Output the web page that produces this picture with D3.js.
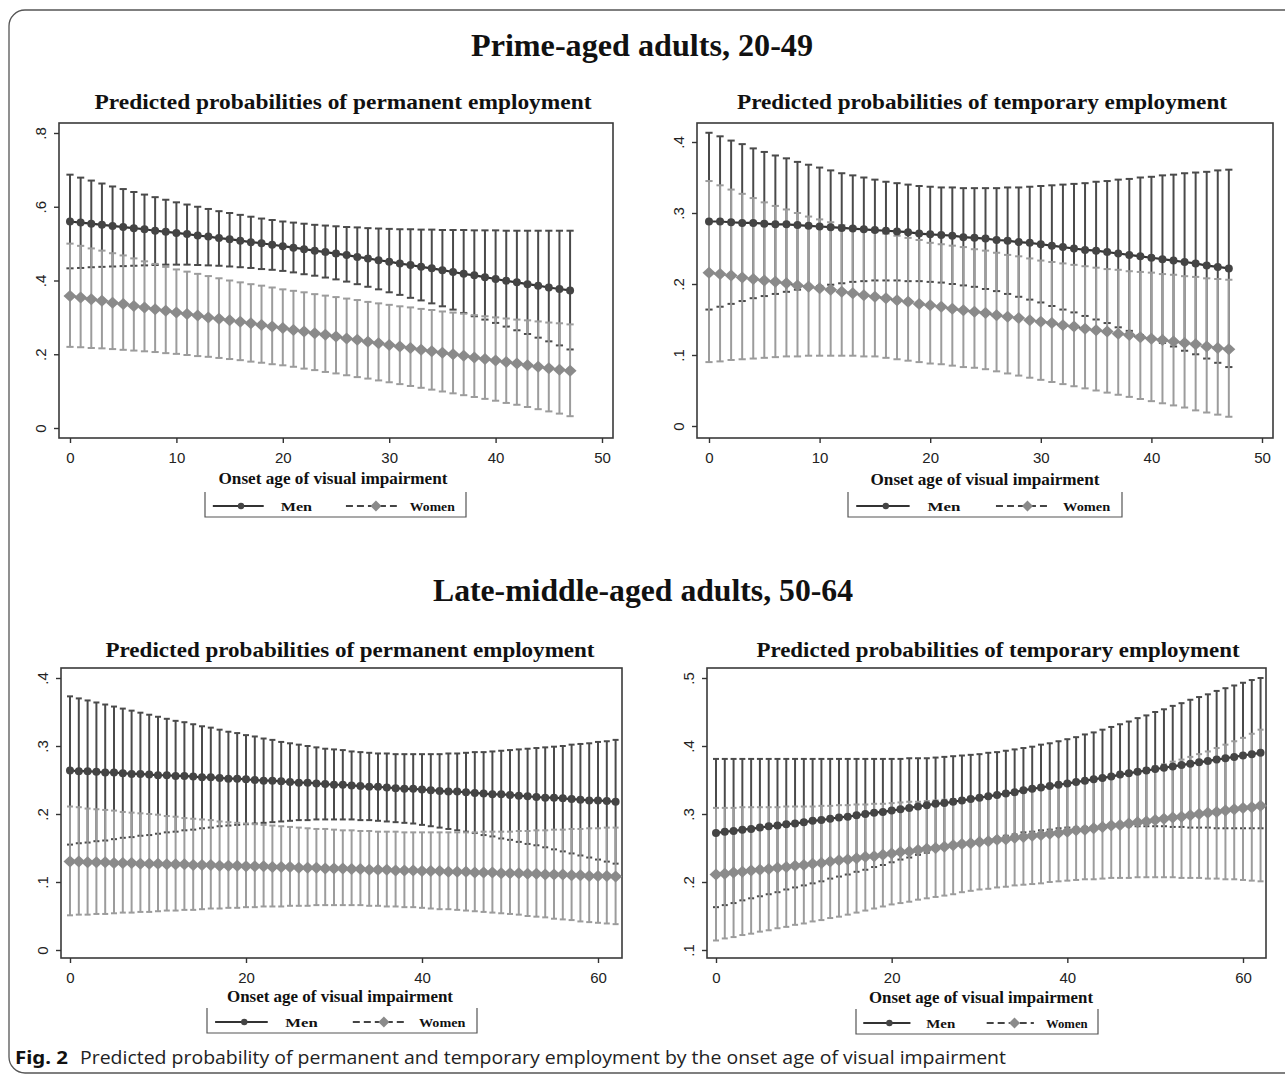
<!DOCTYPE html>
<html><head><meta charset="utf-8">
<script src="https://cdn.jsdelivr.net/npm/d3@7"></script>
<style>body{margin:0;background:#fff}svg{display:block}</style>
</head><body>
<svg id="chart" width="1285" height="1075"></svg>
<script>
// ---------- categories (onset age) ----------
const agesPrime = [0,1,2,3,4,5,6,7,8,9,10,11,12,13,14,15,16,17,18,19,20,21,22,23,24,25,26,27,28,29,30,31,32,33,34,35,36,37,38,39,40,41,42,43,44,45,46,47];
const agesLate = [0,1,2,3,4,5,6,7,8,9,10,11,12,13,14,15,16,17,18,19,20,21,22,23,24,25,26,27,28,29,30,31,32,33,34,35,36,37,38,39,40,41,42,43,44,45,46,47,48,49,50,51,52,53,54,55,56,57,58,59,60,61,62];

// ---------- Panel 1: prime-aged, permanent ----------
const p1MenMean = [.560,.557,.554,.551,.548,.545,.542,.539,.535,.532,.529,.526,.522,.519,.515,.512,.508,.504,.501,.497,.493,.489,.485,.481,.477,.473,.469,.464,.460,.455,.451,.446,.442,.437,.433,.428,.423,.418,.414,.409,.404,.399,.395,.390,.386,.381,.377,.373];
const p1MenHi = [.687,.679,.671,.663,.655,.648,.640,.633,.626,.619,.612,.606,.600,.594,.588,.583,.578,.573,.568,.564,.560,.557,.554,.551,.549,.547,.545,.544,.542,.541,.540,.539,.539,.538,.538,.537,.537,.537,.536,.536,.536,.535,.535,.535,.535,.535,.535,.535];
const p1MenLo = [.433,.434,.436,.437,.438,.439,.440,.441,.442,.443,.443,.443,.442,.441,.440,.438,.436,.434,.431,.429,.426,.422,.417,.413,.408,.403,.397,.390,.383,.376,.368,.361,.353,.346,.338,.330,.321,.312,.303,.294,.285,.275,.265,.255,.245,.235,.224,.213];
const p1WomenMean = [.358,.354,.349,.345,.340,.336,.331,.327,.322,.318,.313,.309,.305,.300,.296,.292,.288,.284,.279,.275,.271,.266,.262,.257,.253,.248,.243,.239,.234,.230,.225,.221,.217,.212,.208,.204,.200,.196,.191,.187,.183,.179,.175,.170,.166,.162,.158,.155];
const p1WomenHi = [.500,.494,.487,.481,.474,.468,.460,.452,.445,.437,.430,.424,.418,.412,.406,.400,.395,.390,.386,.381,.376,.372,.368,.363,.359,.355,.351,.347,.342,.338,.334,.330,.327,.323,.320,.316,.313,.310,.306,.303,.300,.297,.294,.292,.289,.286,.284,.281];
const p1WomenLo = [.220,.219,.217,.216,.214,.212,.210,.208,.206,.203,.201,.198,.195,.193,.190,.187,.184,.180,.177,.173,.170,.166,.161,.157,.152,.148,.143,.138,.134,.129,.124,.119,.114,.109,.104,.099,.094,.089,.084,.079,.074,.068,.063,.057,.051,.045,.039,.032];

// ---------- Panel 2: prime-aged, temporary ----------
const p2MenMean = [.288,.288,.287,.286,.286,.285,.284,.284,.283,.282,.281,.280,.279,.278,.277,.276,.275,.274,.273,.271,.270,.269,.268,.266,.265,.264,.262,.261,.259,.258,.256,.254,.252,.250,.248,.247,.245,.243,.241,.239,.237,.235,.233,.231,.229,.226,.224,.222];
const p2MenHi = [.413,.408,.402,.397,.391,.386,.381,.377,.372,.368,.364,.360,.356,.353,.350,.347,.344,.342,.340,.338,.337,.336,.336,.335,.335,.335,.335,.336,.336,.337,.338,.339,.340,.341,.342,.344,.345,.347,.348,.350,.351,.353,.354,.356,.357,.358,.360,.361];
const p2MenLo = [.164,.168,.172,.176,.180,.183,.186,.189,.192,.195,.197,.199,.201,.203,.204,.205,.205,.205,.204,.204,.203,.202,.200,.198,.196,.193,.190,.186,.182,.178,.174,.169,.164,.160,.155,.150,.145,.139,.134,.128,.123,.117,.112,.106,.101,.095,.089,.083];
const p2WomenMean = [.216,.214,.212,.209,.207,.205,.203,.201,.198,.196,.194,.192,.189,.187,.184,.182,.180,.177,.175,.172,.170,.168,.165,.163,.161,.159,.156,.154,.152,.149,.147,.145,.142,.140,.137,.135,.133,.130,.128,.125,.123,.121,.119,.117,.115,.112,.110,.108];
const p2WomenHi = [.345,.339,.333,.327,.321,.315,.310,.305,.300,.295,.291,.287,.283,.280,.277,.274,.271,.268,.265,.262,.258,.256,.254,.252,.249,.247,.244,.241,.239,.236,.233,.231,.229,.227,.225,.223,.221,.220,.218,.217,.216,.214,.213,.211,.210,.208,.207,.206];
const p2WomenLo = [.090,.091,.093,.094,.095,.096,.097,.098,.098,.099,.099,.099,.099,.099,.098,.098,.096,.094,.092,.090,.088,.087,.085,.083,.082,.080,.077,.074,.071,.068,.065,.062,.059,.056,.053,.050,.047,.044,.041,.038,.035,.032,.029,.026,.022,.019,.016,.013];

// ---------- Panel 3: late-middle-aged, permanent ----------
const p3MenMean = [.264,.263,.263,.262,.261,.261,.260,.259,.259,.258,.257,.257,.256,.256,.255,.254,.254,.253,.252,.252,.251,.250,.249,.249,.248,.247,.246,.246,.245,.244,.243,.243,.242,.241,.240,.240,.239,.238,.237,.237,.236,.235,.234,.233,.233,.232,.231,.230,.229,.229,.228,.227,.226,.225,.224,.224,.223,.222,.221,.220,.220,.219,.218];
const p3MenHi = [.373,.370,.367,.364,.361,.358,.355,.352,.349,.346,.343,.340,.337,.335,.332,.329,.327,.324,.321,.319,.316,.314,.311,.309,.306,.304,.302,.300,.298,.296,.295,.294,.292,.291,.290,.289,.289,.288,.288,.288,.288,.288,.288,.289,.289,.290,.291,.291,.292,.293,.294,.295,.296,.297,.298,.299,.300,.302,.303,.304,.306,.307,.309];
const p3MenLo = [.155,.157,.158,.160,.161,.163,.165,.166,.168,.169,.171,.173,.174,.176,.177,.179,.180,.182,.183,.184,.185,.186,.187,.188,.189,.190,.191,.191,.192,.192,.192,.192,.192,.191,.191,.190,.189,.188,.187,.186,.184,.182,.180,.178,.176,.174,.172,.169,.167,.164,.162,.159,.156,.154,.151,.148,.145,.142,.139,.136,.133,.130,.127];
const p3WomenMean = [.130,.130,.129,.129,.129,.128,.128,.128,.127,.127,.127,.126,.126,.126,.125,.125,.125,.124,.124,.124,.123,.123,.123,.122,.122,.122,.121,.121,.121,.120,.120,.120,.119,.119,.118,.118,.118,.117,.117,.117,.116,.116,.116,.115,.115,.115,.114,.114,.114,.113,.113,.113,.112,.112,.111,.111,.111,.110,.110,.109,.109,.109,.108];
const p3WomenHi = [.211,.210,.208,.207,.206,.205,.203,.202,.201,.200,.199,.197,.196,.194,.193,.192,.191,.189,.188,.187,.186,.185,.184,.183,.182,.181,.180,.179,.178,.178,.177,.176,.176,.175,.175,.174,.174,.174,.173,.173,.173,.173,.173,.173,.173,.173,.173,.174,.174,.174,.174,.175,.175,.176,.176,.177,.177,.178,.178,.179,.179,.180,.180];
const p3WomenLo = [.051,.052,.052,.053,.053,.054,.055,.055,.056,.056,.057,.058,.058,.059,.059,.060,.061,.061,.062,.062,.063,.063,.064,.064,.064,.065,.065,.065,.066,.066,.066,.066,.066,.066,.065,.065,.064,.064,.063,.063,.062,.061,.060,.060,.059,.058,.057,.056,.055,.054,.053,.052,.050,.049,.048,.046,.045,.044,.042,.041,.040,.039,.038];

// ---------- Panel 4: late-middle-aged, temporary ----------
const p4MenMean = [.272,.274,.275,.277,.278,.280,.282,.283,.285,.286,.288,.290,.291,.293,.295,.296,.298,.300,.302,.303,.305,.307,.309,.311,.313,.315,.316,.318,.320,.322,.324,.326,.328,.330,.332,.335,.337,.339,.341,.343,.345,.347,.349,.351,.353,.355,.358,.360,.362,.364,.366,.368,.370,.372,.374,.376,.378,.380,.382,.384,.386,.388,.390];
const p4MenHi = [.381,.381,.381,.381,.381,.381,.381,.381,.381,.381,.381,.381,.381,.381,.381,.381,.381,.381,.381,.381,.381,.381,.382,.382,.382,.383,.384,.385,.386,.387,.388,.390,.391,.393,.395,.397,.399,.402,.404,.407,.410,.413,.417,.420,.424,.428,.432,.436,.441,.445,.450,.454,.459,.463,.468,.472,.476,.481,.485,.489,.493,.497,.500];
const p4MenLo = [.163,.166,.169,.173,.176,.179,.182,.185,.189,.192,.195,.198,.201,.205,.208,.211,.215,.218,.222,.225,.229,.233,.236,.240,.243,.247,.250,.252,.255,.257,.260,.263,.265,.268,.270,.273,.274,.276,.277,.279,.280,.280,.281,.281,.282,.282,.282,.282,.282,.282,.282,.282,.281,.281,.280,.280,.280,.279,.279,.279,.279,.279,.279];
const p4WomenMean = [.211,.212,.214,.215,.217,.218,.219,.221,.222,.224,.225,.227,.228,.230,.232,.233,.235,.237,.238,.240,.242,.244,.245,.247,.249,.250,.252,.254,.256,.257,.259,.260,.262,.263,.265,.266,.268,.269,.271,.272,.274,.276,.277,.279,.281,.283,.284,.286,.288,.289,.291,.293,.295,.296,.298,.300,.302,.303,.305,.307,.309,.310,.312];
const p4WomenHi = [.309,.309,.309,.310,.310,.310,.310,.310,.311,.311,.311,.311,.312,.312,.313,.313,.314,.314,.315,.315,.316,.317,.318,.318,.319,.320,.321,.322,.323,.325,.326,.327,.329,.330,.332,.334,.336,.338,.340,.342,.344,.346,.349,.351,.354,.356,.359,.362,.364,.367,.370,.373,.377,.380,.384,.388,.392,.397,.402,.407,.412,.418,.424];
const p4WomenLo = [.114,.117,.119,.122,.124,.127,.129,.132,.134,.137,.139,.142,.144,.147,.149,.152,.155,.158,.161,.164,.167,.169,.171,.174,.176,.178,.180,.182,.185,.187,.189,.190,.192,.193,.195,.196,.197,.198,.200,.201,.202,.203,.204,.204,.205,.206,.206,.206,.207,.207,.207,.207,.207,.206,.206,.206,.205,.205,.204,.204,.203,.202,.201];

// ---------- tick values & texts ----------
const p1YTicks = [0, .2, .4, .6, .8];
const p2YTicks = [0, .1, .2, .3, .4];
const p3YTicks = [0, .1, .2, .3, .4];
const p4YTicks = [.1, .2, .3, .4, .5];
const primeXTicks = [0, 10, 20, 30, 40, 50];
const lateXTicks = [0, 20, 40, 60];
const groupTitles = ["Prime-aged adults, 20-49", "Late-middle-aged adults, 50-64"];
const panelTitles = ["Predicted probabilities  of permanent  employment", "Predicted probabilities  of temporary  employment",
                     "Predicted probabilities  of permanent  employment", "Predicted probabilities  of temporary  employment"];
const xAxisTitle = "Onset age of visual impairment";
const legendLabels = ["Men", "Women"];
const captionLabel = "Fig. 2";
const captionText = "Predicted probability of permanent and temporary employment by the onset age of visual impairment";

// ---------- layout ----------
const panels = [
  {ages: agesPrime, men: [p1MenMean, p1MenHi, p1MenLo], women: [p1WomenMean, p1WomenHi, p1WomenLo], yTicks: p1YTicks, xTicks: primeXTicks,
   xd: [0, 50], yd: [0, .8], frame: [59, 123, 613, 438], xr: [70, 602], yr: [428, 133],
   title: [343, 109, 497], xt: [333, 484, 229], leg: [205, 466, 506], cap: 3.6},
  {ages: agesPrime, men: [p2MenMean, p2MenHi, p2MenLo], women: [p2WomenMean, p2WomenHi, p2WomenLo], yTicks: p2YTicks, xTicks: primeXTicks,
   xd: [0, 50], yd: [0, .4], frame: [697, 123, 1273, 438], xr: [709, 1262], yr: [426, 142],
   title: [982, 109, 490], xt: [985, 485, 229], leg: [848, 1122, 506], cap: 3.6},
  {ages: agesLate, men: [p3MenMean, p3MenHi, p3MenLo], women: [p3WomenMean, p3WomenHi, p3WomenLo], yTicks: p3YTicks, xTicks: lateXTicks,
   xd: [0, 60], yd: [0, .4], frame: [61, 668, 622, 958], xr: [70, 598], yr: [950, 678],
   title: [350, 657, 489], xt: [340, 1002, 226], leg: [207, 477, 1022], cap: 3},
  {ages: agesLate, men: [p4MenMean, p4MenHi, p4MenLo], women: [p4WomenMean, p4WomenHi, p4WomenLo], yTicks: p4YTicks, xTicks: lateXTicks,
   xd: [0, 60], yd: [.1, .5], frame: [707, 668, 1266, 958], xr: [716, 1243], yr: [950, 678],
   title: [998, 657, 483], xt: [981, 1003, 224], leg: [856, 1098, 1023], cap: 3}
];

const SERIF = "'Liberation Serif','Times New Roman',serif";
const SANS = "'Liberation Sans',Arial,sans-serif";
const svg = d3.select("#chart");

// outer frame
svg.append("rect").attr("x", 9).attr("y", 10).attr("width", 1300).attr("height", 1063)
  .attr("rx", 16).attr("fill", "none").attr("stroke", "#555").attr("stroke-width", 1.3);

// group titles
[[642, 56, 342], [643, 601, 420]].forEach((p, i) => {
  svg.append("text").attr("x", p[0]).attr("y", p[1]).attr("text-anchor", "middle")
    .attr("font-family", SERIF).attr("font-weight", "bold").attr("font-size", 31)
    .attr("textLength", p[2]).attr("lengthAdjust", "spacingAndGlyphs").attr("fill", "#111")
    .text(groupTitles[i]);
});

const fmt = d => d === 0 ? "0" : d3.format(".1f")(d).replace(/^0/, "");
const MEN_CI = "#4a4a4a", WOMEN_CI = "#9c9c9c";

function diamond(w, h) { return `M0,${-h}L${w},0L0,${h}L${-w},0Z`; }

panels.forEach((p, pi) => {
  const g = svg.append("g");
  const x = d3.scaleLinear().domain(p.xd).range(p.xr);
  const y = d3.scaleLinear().domain(p.yd).range(p.yr);
  const [L, T, R, B] = p.frame;

  // title
  g.append("text").attr("x", p.title[0]).attr("y", p.title[1]).attr("text-anchor", "middle")
    .attr("font-family", SERIF).attr("font-weight", "bold").attr("font-size", 21)
    .attr("textLength", p.title[2]).attr("lengthAdjust", "spacingAndGlyphs").attr("fill", "#111")
    .text(panelTitles[pi]);

  // frame
  g.append("rect").attr("x", L).attr("y", T).attr("width", R - L).attr("height", B - T)
    .attr("fill", "#fff").attr("stroke", "#3a3a3a").attr("stroke-width", 1.6);

  // y axis
  const ya = g.append("g").attr("transform", `translate(${L},0)`)
    .call(d3.axisLeft(y).tickValues(p.yTicks).tickSize(5).tickFormat(fmt));
  ya.select(".domain").remove();
  ya.attr("color", "#333");
  ya.selectAll(".tick line").attr("stroke-width", 1.4);
  ya.selectAll(".tick text").attr("transform", "rotate(-90)").attr("x", 0).attr("y", -13).attr("dy", 0)
    .attr("text-anchor", "middle").attr("font-family", SANS).attr("font-size", 15).attr("fill", "#222");

  // x axis
  const xa = g.append("g").attr("transform", `translate(0,${B})`)
    .call(d3.axisBottom(x).tickValues(p.xTicks).tickSize(5));
  xa.select(".domain").remove();
  xa.attr("color", "#333");
  xa.selectAll(".tick line").attr("stroke-width", 1.4);
  xa.selectAll(".tick text").attr("y", 25).attr("dy", 0).attr("font-family", SANS)
    .attr("font-size", 15).attr("fill", "#222");

  // x axis title
  g.append("text").attr("x", p.xt[0]).attr("y", p.xt[1]).attr("text-anchor", "middle")
    .attr("font-family", SERIF).attr("font-weight", "bold").attr("font-size", 16)
    .attr("textLength", p.xt[2]).attr("lengthAdjust", "spacingAndGlyphs").attr("fill", "#111")
    .text(xAxisTitle);

  const rows = s => p.ages.map((a, i) => ({a, m: s[0][i], h: s[1][i], l: s[2][i]}));
  const menRows = rows(p.men), womenRows = rows(p.women);

  function drawCI(data, color) {
    const cg = g.append("g").attr("stroke", color).attr("stroke-width", 2);
    cg.selectAll(".bar").data(data).join("line")
      .attr("x1", d => x(d.a)).attr("x2", d => x(d.a)).attr("y1", d => y(d.h)).attr("y2", d => y(d.l));
    cg.selectAll(".capH").data(data).join("line")
      .attr("x1", d => x(d.a) - p.cap).attr("x2", d => x(d.a) + p.cap).attr("y1", d => y(d.h)).attr("y2", d => y(d.h));
    cg.selectAll(".capL").data(data).join("line")
      .attr("x1", d => x(d.a) - p.cap).attr("x2", d => x(d.a) + p.cap).attr("y1", d => y(d.l)).attr("y2", d => y(d.l));
  }
  drawCI(menRows, MEN_CI);
  drawCI(womenRows, WOMEN_CI);

  const line = d3.line().x(d => x(d.a)).y(d => y(d.m));
  g.append("path").datum(menRows).attr("d", line).attr("fill", "none").attr("stroke", "#333").attr("stroke-width", 2.2);
  g.selectAll(".mdot").data(menRows).join("circle").attr("cx", d => x(d.a)).attr("cy", d => y(d.m))
    .attr("r", 4).attr("fill", "#444");
  g.append("path").datum(womenRows).attr("d", line).attr("fill", "none").attr("stroke", "#555")
    .attr("stroke-width", 1.6).attr("stroke-dasharray", "6,4");
  g.selectAll(".wdia").data(womenRows).join("path")
    .attr("transform", d => `translate(${x(d.a)},${y(d.m)})`).attr("d", diamond(6.5, 6)).attr("fill", "#8a8a8a");

  // legend
  const [lx0, lx1, ly] = p.leg, W = lx1 - lx0, lg = g.append("g");
  lg.append("path").attr("d", `M${lx0},${ly - 14}V${ly + 11}H${lx1}V${ly - 14}`)
    .attr("fill", "none").attr("stroke", "#555").attr("stroke-width", 1.2);
  lg.append("line").attr("x1", lx0 + .03 * W).attr("x2", lx0 + .225 * W).attr("y1", ly).attr("y2", ly)
    .attr("stroke", "#333").attr("stroke-width", 2);
  lg.append("circle").attr("cx", lx0 + .138 * W).attr("cy", ly).attr("r", 3.2).attr("fill", "#444");
  lg.append("text").attr("x", lx0 + .29 * W).attr("y", ly + 5).attr("font-family", SERIF).attr("font-weight", "bold")
    .attr("font-size", 13).attr("textLength", .12 * W).attr("lengthAdjust", "spacingAndGlyphs").attr("fill", "#111")
    .text(legendLabels[0]);
  lg.append("line").attr("x1", lx0 + .54 * W).attr("x2", lx0 + .735 * W).attr("y1", ly).attr("y2", ly)
    .attr("stroke", "#444").attr("stroke-width", 1.8).attr("stroke-dasharray", "7,4");
  lg.append("path").attr("transform", `translate(${lx0 + .655 * W},${ly})`).attr("d", diamond(5.5, 5.5)).attr("fill", "#8a8a8a");
  lg.append("text").attr("x", lx0 + .785 * W).attr("y", ly + 5).attr("font-family", SERIF).attr("font-weight", "bold")
    .attr("font-size", 13).attr("textLength", .172 * W).attr("lengthAdjust", "spacingAndGlyphs").attr("fill", "#111")
    .text(legendLabels[1]);
});

// caption
svg.append("text").attr("x", 15).attr("y", 1064).attr("font-family", "'Noto Sans','Open Sans',sans-serif")
  .attr("font-weight", "bold").attr("font-size", 18).attr("textLength", 53).attr("lengthAdjust", "spacingAndGlyphs")
  .attr("fill", "#111").text(captionLabel);
svg.append("text").attr("x", 80).attr("y", 1064).attr("font-family", "'Open Sans','Noto Sans',sans-serif")
  .attr("font-size", 18).attr("textLength", 926).attr("lengthAdjust", "spacingAndGlyphs")
  .attr("fill", "#222").text(captionText);
</script>
</body></html>
